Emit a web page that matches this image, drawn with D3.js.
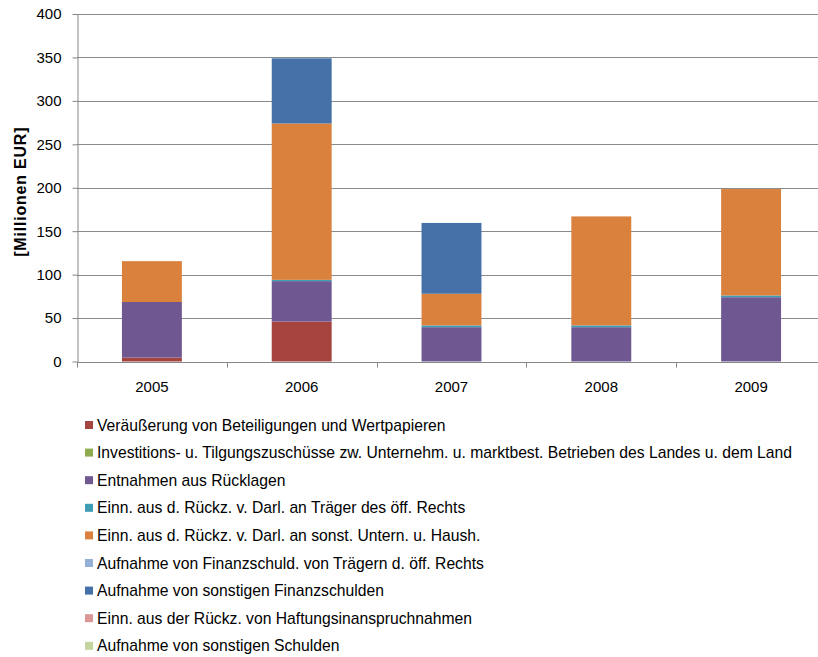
<!DOCTYPE html>
<html>
<head>
<meta charset="utf-8">
<script src="https://cdn.jsdelivr.net/npm/d3@7"></script>
<style>
  html, body { margin: 0; padding: 0; background: #fff; }
  svg { display: block; font-family: "Liberation Sans", Arial, sans-serif; }
</style>
</head>
<body>
<svg id="chart" width="818" height="657"></svg>
<script>
const categories = ["2005", "2006", "2007", "2008", "2009"];
const seriesNames = [
  "Veräußerung von Beteiligungen und Wertpapieren",
  "Investitions- u. Tilgungszuschüsse zw. Unternehm. u. marktbest. Betrieben des Landes u. dem Land",
  "Entnahmen aus Rücklagen",
  "Einn. aus d. Rückz. v. Darl. an Träger des öff. Rechts",
  "Einn. aus d. Rückz. v. Darl. an sonst. Untern. u. Haush.",
  "Aufnahme von Finanzschuld. von Trägern d. öff. Rechts",
  "Aufnahme von sonstigen Finanzschulden",
  "Einn. aus der Rückz. von Haftungsinanspruchnahmen",
  "Aufnahme von sonstigen Schulden"
];
const seriesColors = ["#A5433F", "#8EAB4F", "#6F5892", "#3D9DB5", "#D9813D", "#95B0D6", "#4571A8", "#D99797", "#C2D69E"];
const veraeusserung   = [4.5, 46, 0, 0, 0];
const investitionen   = [0, 0, 0, 0, 0];
const entnahmen       = [64, 46.5, 39.5, 39.5, 74];
const darlTraeger     = [0, 1.5, 2, 2, 2];
const darlSonst       = [47, 180, 36.5, 125.5, 122.5];
const finTraeger      = [0, 0, 0, 0, 0];
const finSonst        = [0, 75, 81.5, 0, 0];
const haftung         = [0, 0, 0, 0, 0];
const sonstSchulden   = [0, 0, 0, 0, 0];
const yTicks = [0, 50, 100, 150, 200, 250, 300, 350, 400];
const yTitle = "[Millionen EUR]";

const seriesValues = [veraeusserung, investitionen, entnahmen, darlTraeger, darlSonst, finTraeger, finSonst, haftung, sonstSchulden];

(function () {
const svg = d3.select("#chart");
const pLeft = 77, pTop = 14, pBottom = 361.5;
const step = 149.8;
const pRight = pLeft + step * categories.length;

const x = d3.scaleBand().domain(categories).range([pLeft, pRight]).padding(0);
const y = d3.scaleLinear().domain([0, 400]).range([pBottom, pTop]);

const rows = categories.map((c, i) => {
  const r = { cat: c };
  seriesNames.forEach((s, j) => r[s] = seriesValues[j][i]);
  return r;
});
const stack = d3.stack().keys(seriesNames)(rows);

// gridlines
svg.append("g").selectAll("line").data(yTicks.filter(t => t > 0)).join("line")
  .attr("x1", pLeft).attr("x2", 818)
  .attr("y1", d => Math.round(y(d)) + 0.5).attr("y2", d => Math.round(y(d)) + 0.5)
  .attr("stroke", "#8a8a8a").attr("stroke-width", 1);

// bars
const bw = x.bandwidth() * 0.4;
svg.append("g").selectAll("g").data(stack).join("g")
  .attr("fill", (d, i) => seriesColors[i])
  .selectAll("rect").data(d => d).join("rect")
  .attr("x", d => x(d.data.cat) + x.bandwidth() * 0.3)
  .attr("width", bw)
  .attr("y", d => y(d[1]))
  .attr("height", d => Math.max(0, y(d[0]) - y(d[1])));

// y axis
const yAxis = d3.axisLeft(y).tickValues(yTicks).tickSize(5).tickPadding(11).tickSizeOuter(0);
const gy = svg.append("g").attr("transform", `translate(${pLeft + 0.5},0)`).call(yAxis);
gy.select(".domain").attr("stroke", "#868686");
gy.selectAll(".tick line").attr("stroke", "#868686");
gy.selectAll(".tick text").attr("fill", "#000").style("font-size", "15px")
  .style("font-family", "'Liberation Sans', Arial, sans-serif");

// x axis
const gx = svg.append("g").attr("transform", `translate(0,${Math.round(pBottom) + 0.5})`);
gx.append("line").attr("x1", pLeft).attr("x2", 818).attr("y1", 0).attr("y2", 0).attr("stroke", "#868686");
const bounds = d3.range(categories.length + 1).map(i => pLeft + i * step);
gx.selectAll("line.tk").data(bounds).join("line").attr("class", "tk")
  .attr("x1", d => Math.round(d) + 0.5).attr("x2", d => Math.round(d) + 0.5)
  .attr("y1", 0).attr("y2", 5).attr("stroke", "#868686");
gx.selectAll("text").data(categories).join("text")
  .attr("x", d => x(d) + x.bandwidth() / 2).attr("y", 29)
  .attr("text-anchor", "middle").style("font-size", "15px").attr("fill", "#000")
  .text(d => d);

// y title
svg.append("text")
  .attr("transform", `translate(26,${(pTop + pBottom) / 2 + 4}) rotate(-90)`)
  .attr("text-anchor", "middle").style("font-size", "16px").style("font-weight", "bold")
  .style("letter-spacing", "0.8px")
  .text(yTitle);

// legend
const lg = svg.append("g");
const ly0 = 425, lstep = 27.6;
seriesNames.forEach((s, i) => {
  const cy = ly0 + i * lstep;
  lg.append("rect").attr("x", 85).attr("y", cy - 4).attr("width", 8).attr("height", 8).attr("fill", seriesColors[i]);
  lg.append("text").attr("x", 97).attr("y", cy + 5.5).style("font-size", "15.7px").attr("fill", "#000")
    .text(s);
});
})();
</script>
</body>
</html>
